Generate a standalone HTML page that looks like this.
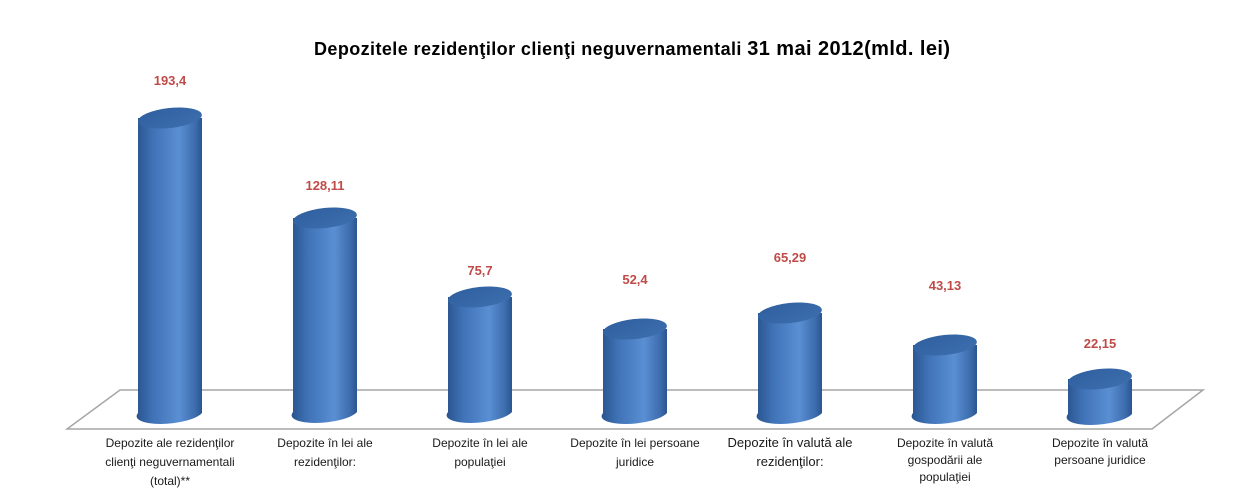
<!DOCTYPE html>
<html><head><meta charset="utf-8"><style>
html,body{margin:0;padding:0;background:#fff;}
svg{display:block;}
text{font-family:"Liberation Sans",sans-serif;}
</style></head><body>
<svg width="1238" height="489" viewBox="0 0 1238 489">
<defs>
<linearGradient id="g" x1="0" x2="1" y1="0" y2="0">
<stop offset="0" stop-color="#2a5590"/>
<stop offset="0.25" stop-color="#3f72b6"/>
<stop offset="0.65" stop-color="#5a8fd4"/>
<stop offset="0.9" stop-color="#3c6cac"/>
<stop offset="1" stop-color="#2a5590"/>
</linearGradient>
<linearGradient id="t" x1="0" x2="1" y1="0" y2="1">
<stop offset="0" stop-color="#2f5f9e"/>
<stop offset="1" stop-color="#3d6eae"/>
</linearGradient>
</defs>
<text x="632" y="55" text-anchor="middle" font-size="18" font-weight="bold" fill="#000" textLength="636">Depozitele rezidenţilor clienţi neguvernamentali  <tspan font-size="20">31 mai 2012(mld. lei)</tspan></text>
<polygon points="120,390 1203,390 1152,429 67,429" fill="none" stroke="#a6a6a6" stroke-width="1.5"/>
<g>
<g transform="translate(170,0)">
<path d="M-32,118 L-32,413 A32,10 -6 0 0 32,413 L32,118 Z" fill="url(#g)"/>
<ellipse cx="0" cy="118" rx="32" ry="10" fill="url(#t)" transform="rotate(-6 0 118)"/>
</g>
<g transform="translate(325,0)">
<path d="M-32,218 L-32,412 A32,10 -6 0 0 32,412 L32,218 Z" fill="url(#g)"/>
<ellipse cx="0" cy="218" rx="32" ry="10" fill="url(#t)" transform="rotate(-6 0 218)"/>
</g>
<g transform="translate(480,0)">
<path d="M-32,297 L-32,412 A32,10 -6 0 0 32,412 L32,297 Z" fill="url(#g)"/>
<ellipse cx="0" cy="297" rx="32" ry="10" fill="url(#t)" transform="rotate(-6 0 297)"/>
</g>
<g transform="translate(635,0)">
<path d="M-32,329 L-32,413 A32,10 -6 0 0 32,413 L32,329 Z" fill="url(#g)"/>
<ellipse cx="0" cy="329" rx="32" ry="10" fill="url(#t)" transform="rotate(-6 0 329)"/>
</g>
<g transform="translate(790,0)">
<path d="M-32,313 L-32,413 A32,10 -6 0 0 32,413 L32,313 Z" fill="url(#g)"/>
<ellipse cx="0" cy="313" rx="32" ry="10" fill="url(#t)" transform="rotate(-6 0 313)"/>
</g>
<g transform="translate(945,0)">
<path d="M-32,345 L-32,413 A32,10 -6 0 0 32,413 L32,345 Z" fill="url(#g)"/>
<ellipse cx="0" cy="345" rx="32" ry="10" fill="url(#t)" transform="rotate(-6 0 345)"/>
</g>
<g transform="translate(1100,0)">
<path d="M-32,379 L-32,414 A32,10 -6 0 0 32,414 L32,379 Z" fill="url(#g)"/>
<ellipse cx="0" cy="379" rx="32" ry="10" fill="url(#t)" transform="rotate(-6 0 379)"/>
</g>
</g>
<g font-size="13" font-weight="bold" fill="#be4b48" text-anchor="middle">
<text x="170" y="85">193,4</text>
<text x="325" y="190">128,11</text>
<text x="480" y="275">75,7</text>
<text x="635" y="284">52,4</text>
<text x="790" y="262">65,29</text>
<text x="945" y="290">43,13</text>
<text x="1100" y="348">22,15</text>
</g>
<g font-size="12" fill="#1a1a1a" text-anchor="middle">
<text x="170" y="447">Depozite ale rezidenţilor</text>
<text x="170" y="466">clienţi neguvernamentali</text>
<text x="170" y="485">(total)**</text>
<text x="325" y="447">Depozite în lei ale</text>
<text x="325" y="466">rezidenţilor:</text>
<text x="480" y="447">Depozite în lei ale</text>
<text x="480" y="466">populaţiei</text>
<text x="635" y="447">Depozite în lei persoane</text>
<text x="635" y="466">juridice</text>
<text x="790" y="447" font-size="13">Depozite în valută ale</text>
<text x="790" y="466" font-size="13">rezidenţilor:</text>
<text x="945" y="447">Depozite în valută</text>
<text x="945" y="464">gospodării ale</text>
<text x="945" y="481">populaţiei</text>
<text x="1100" y="447">Depozite în valută</text>
<text x="1100" y="464">persoane juridice</text>
</g>
</svg>
</body></html>
